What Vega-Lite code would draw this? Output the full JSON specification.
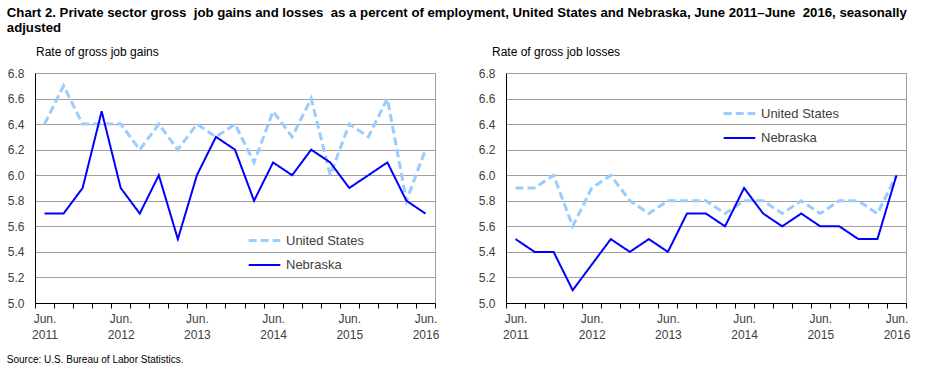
{
  "$schema": "https://vega.github.io/schema/vega-lite/v6.json",
  "padding": {"left": 6, "top": 6, "right": 5, "bottom": 5},
  "background": "white",
  "config": {
    "font": "Liberation Sans",
    "view": {"stroke": "#A0A0A0"},
    "axis": {"labelFont": "Liberation Sans", "labelFontSize": 12, "labelColor": "#404040", "domainColor": "black", "tickColor": "black", "title": null},
    "legend": {"orient": "none", "title": null, "symbolType": "stroke", "symbolSize": 1000, "labelFontSize": 13, "labelColor": "#404040", "labelFont": "Liberation Sans", "rowPadding": -6, "padding": 0, "labelOffset": 4}
  },
  "title": {"text": ["Chart 2. Private sector gross \u00a0job gains and losses \u00a0as a percent of employment, United States and Nebraska, June 2011\u2013June \u00a02016, seasonally", "adjusted"], "anchor": "start", "fontSize": 13.2, "fontWeight": "bold", "lineHeight": 15, "offset": 10, "font": "Liberation Sans", "color": "black"},
  "datasets": {
    "d": [
      {"panel": "gains", "series": "United States", "q": 0, "value": 6.4},
      {"panel": "gains", "series": "United States", "q": 1, "value": 6.7},
      {"panel": "gains", "series": "United States", "q": 2, "value": 6.4},
      {"panel": "gains", "series": "United States", "q": 3, "value": 6.4},
      {"panel": "gains", "series": "United States", "q": 4, "value": 6.4},
      {"panel": "gains", "series": "United States", "q": 5, "value": 6.2},
      {"panel": "gains", "series": "United States", "q": 6, "value": 6.4},
      {"panel": "gains", "series": "United States", "q": 7, "value": 6.2},
      {"panel": "gains", "series": "United States", "q": 8, "value": 6.4},
      {"panel": "gains", "series": "United States", "q": 9, "value": 6.3},
      {"panel": "gains", "series": "United States", "q": 10, "value": 6.4},
      {"panel": "gains", "series": "United States", "q": 11, "value": 6.1},
      {"panel": "gains", "series": "United States", "q": 12, "value": 6.5},
      {"panel": "gains", "series": "United States", "q": 13, "value": 6.3},
      {"panel": "gains", "series": "United States", "q": 14, "value": 6.6},
      {"panel": "gains", "series": "United States", "q": 15, "value": 6.0},
      {"panel": "gains", "series": "United States", "q": 16, "value": 6.4},
      {"panel": "gains", "series": "United States", "q": 17, "value": 6.3},
      {"panel": "gains", "series": "United States", "q": 18, "value": 6.6},
      {"panel": "gains", "series": "United States", "q": 19, "value": 5.8},
      {"panel": "gains", "series": "United States", "q": 20, "value": 6.2},
      {"panel": "gains", "series": "Nebraska", "q": 0, "value": 5.7},
      {"panel": "gains", "series": "Nebraska", "q": 1, "value": 5.7},
      {"panel": "gains", "series": "Nebraska", "q": 2, "value": 5.9},
      {"panel": "gains", "series": "Nebraska", "q": 3, "value": 6.5},
      {"panel": "gains", "series": "Nebraska", "q": 4, "value": 5.9},
      {"panel": "gains", "series": "Nebraska", "q": 5, "value": 5.7},
      {"panel": "gains", "series": "Nebraska", "q": 6, "value": 6.0},
      {"panel": "gains", "series": "Nebraska", "q": 7, "value": 5.5},
      {"panel": "gains", "series": "Nebraska", "q": 8, "value": 6.0},
      {"panel": "gains", "series": "Nebraska", "q": 9, "value": 6.3},
      {"panel": "gains", "series": "Nebraska", "q": 10, "value": 6.2},
      {"panel": "gains", "series": "Nebraska", "q": 11, "value": 5.8},
      {"panel": "gains", "series": "Nebraska", "q": 12, "value": 6.1},
      {"panel": "gains", "series": "Nebraska", "q": 13, "value": 6.0},
      {"panel": "gains", "series": "Nebraska", "q": 14, "value": 6.2},
      {"panel": "gains", "series": "Nebraska", "q": 15, "value": 6.1},
      {"panel": "gains", "series": "Nebraska", "q": 16, "value": 5.9},
      {"panel": "gains", "series": "Nebraska", "q": 17, "value": 6.0},
      {"panel": "gains", "series": "Nebraska", "q": 18, "value": 6.1},
      {"panel": "gains", "series": "Nebraska", "q": 19, "value": 5.8},
      {"panel": "gains", "series": "Nebraska", "q": 20, "value": 5.7},
      {"panel": "losses", "series": "United States", "q": 0, "value": 5.9},
      {"panel": "losses", "series": "United States", "q": 1, "value": 5.9},
      {"panel": "losses", "series": "United States", "q": 2, "value": 6.0},
      {"panel": "losses", "series": "United States", "q": 3, "value": 5.6},
      {"panel": "losses", "series": "United States", "q": 4, "value": 5.9},
      {"panel": "losses", "series": "United States", "q": 5, "value": 6.0},
      {"panel": "losses", "series": "United States", "q": 6, "value": 5.8},
      {"panel": "losses", "series": "United States", "q": 7, "value": 5.7},
      {"panel": "losses", "series": "United States", "q": 8, "value": 5.8},
      {"panel": "losses", "series": "United States", "q": 9, "value": 5.8},
      {"panel": "losses", "series": "United States", "q": 10, "value": 5.8},
      {"panel": "losses", "series": "United States", "q": 11, "value": 5.7},
      {"panel": "losses", "series": "United States", "q": 12, "value": 5.8},
      {"panel": "losses", "series": "United States", "q": 13, "value": 5.8},
      {"panel": "losses", "series": "United States", "q": 14, "value": 5.7},
      {"panel": "losses", "series": "United States", "q": 15, "value": 5.8},
      {"panel": "losses", "series": "United States", "q": 16, "value": 5.7},
      {"panel": "losses", "series": "United States", "q": 17, "value": 5.8},
      {"panel": "losses", "series": "United States", "q": 18, "value": 5.8},
      {"panel": "losses", "series": "United States", "q": 19, "value": 5.7},
      {"panel": "losses", "series": "United States", "q": 20, "value": 6.0},
      {"panel": "losses", "series": "Nebraska", "q": 0, "value": 5.5},
      {"panel": "losses", "series": "Nebraska", "q": 1, "value": 5.4},
      {"panel": "losses", "series": "Nebraska", "q": 2, "value": 5.4},
      {"panel": "losses", "series": "Nebraska", "q": 3, "value": 5.1},
      {"panel": "losses", "series": "Nebraska", "q": 4, "value": 5.3},
      {"panel": "losses", "series": "Nebraska", "q": 5, "value": 5.5},
      {"panel": "losses", "series": "Nebraska", "q": 6, "value": 5.4},
      {"panel": "losses", "series": "Nebraska", "q": 7, "value": 5.5},
      {"panel": "losses", "series": "Nebraska", "q": 8, "value": 5.4},
      {"panel": "losses", "series": "Nebraska", "q": 9, "value": 5.7},
      {"panel": "losses", "series": "Nebraska", "q": 10, "value": 5.7},
      {"panel": "losses", "series": "Nebraska", "q": 11, "value": 5.6},
      {"panel": "losses", "series": "Nebraska", "q": 12, "value": 5.9},
      {"panel": "losses", "series": "Nebraska", "q": 13, "value": 5.7},
      {"panel": "losses", "series": "Nebraska", "q": 14, "value": 5.6},
      {"panel": "losses", "series": "Nebraska", "q": 15, "value": 5.7},
      {"panel": "losses", "series": "Nebraska", "q": 16, "value": 5.6},
      {"panel": "losses", "series": "Nebraska", "q": 17, "value": 5.6},
      {"panel": "losses", "series": "Nebraska", "q": 18, "value": 5.5},
      {"panel": "losses", "series": "Nebraska", "q": 19, "value": 5.5},
      {"panel": "losses", "series": "Nebraska", "q": 20, "value": 6.0}
    ]
  },
  "vconcat": [
    {
      "title": {"text": "Source: U.S. Bureau of Labor Statistics.", "orient": "bottom", "anchor": "start", "fontSize": 10, "fontWeight": "normal", "offset": 14, "font": "Liberation Sans", "color": "black"},
      "spacing": 37,
      "hconcat": [
        {
          "width": 400,
          "height": 230,
          "title": {"text": "Rate of gross job gains", "anchor": "start", "frame": "group", "dx": 1, "fontSize": 12, "fontWeight": "normal", "offset": 8, "font": "Liberation Sans", "color": "black"},
          "data": {"name": "d"},
          "transform": [{"filter": "datum.panel === 'gains'"}],
          "encoding": {
            "x": {"field": "q", "type": "quantitative", "scale": {"domain": [-0.5, 20.5], "nice": false, "zero": false},
              "axis": {"values": [-0.5, 0, 0.5, 1.5, 2.5, 3.5, 4, 4.5, 5.5, 6.5, 7.5, 8, 8.5, 9.5, 10.5, 11.5, 12, 12.5, 13.5, 14.5, 15.5, 16, 16.5, 17.5, 18.5, 19.5, 20, 20.5],
                "labelExpr": "datum.value % 4 === 0 ? ['Jun.', '' + (2011 + datum.value / 4)] : ''",
                "labelOverlap": false, "labelLineHeight": 16, "labelPadding": 5, "tickSize": 5, "grid": false,
                "tickOpacity": {"condition": {"test": "datum.value % 1 === 0", "value": 0}, "value": 1}}},
            "y": {"field": "value", "type": "quantitative", "scale": {"domain": [5, 6.8], "nice": false, "zero": false},
              "axis": {"values": [5, 5.2, 5.4, 5.6, 5.8, 6, 6.2, 6.4, 6.6, 6.8], "format": ".1f", "ticks": false, "grid": true, "gridColor": "#A0A0A0", "labelPadding": 11}},
            "color": {"field": "series", "type": "nominal", "scale": {"domain": ["United States", "Nebraska"], "range": ["#99CCFF", "#0000FF"]}, "legend": {"legendX": 212, "legendY": 150}},
            "strokeDash": {"field": "series", "type": "nominal", "scale": {"domain": ["United States", "Nebraska"], "range": [[8, 4], [1, 0]]}, "legend": {"legendX": 212, "legendY": 150}},
            "strokeWidth": {"field": "series", "type": "nominal", "scale": {"domain": ["United States", "Nebraska"], "range": [3, 2]}, "legend": {"legendX": 212, "legendY": 150}}
          },
          "layer": [
            {"transform": [{"filter": "datum.series === 'United States'"}], "mark": {"type": "line"}},
            {"transform": [{"filter": "datum.series === 'Nebraska'"}], "mark": {"type": "line"}}
          ]
        },
        {
          "width": 400,
          "height": 230,
          "title": {"text": "Rate of gross job losses", "anchor": "start", "frame": "group", "dx": -14, "fontSize": 12, "fontWeight": "normal", "offset": 8, "font": "Liberation Sans", "color": "black"},
          "data": {"name": "d"},
          "transform": [{"filter": "datum.panel === 'losses'"}],
          "encoding": {
            "x": {"field": "q", "type": "quantitative", "scale": {"domain": [-0.5, 20.5], "nice": false, "zero": false},
              "axis": {"values": [-0.5, 0, 0.5, 1.5, 2.5, 3.5, 4, 4.5, 5.5, 6.5, 7.5, 8, 8.5, 9.5, 10.5, 11.5, 12, 12.5, 13.5, 14.5, 15.5, 16, 16.5, 17.5, 18.5, 19.5, 20, 20.5],
                "labelExpr": "datum.value % 4 === 0 ? ['Jun.', '' + (2011 + datum.value / 4)] : ''",
                "labelOverlap": false, "labelLineHeight": 16, "labelPadding": 5, "tickSize": 5, "grid": false,
                "tickOpacity": {"condition": {"test": "datum.value % 1 === 0", "value": 0}, "value": 1}}},
            "y": {"field": "value", "type": "quantitative", "scale": {"domain": [5, 6.8], "nice": false, "zero": false},
              "axis": {"values": [5, 5.2, 5.4, 5.6, 5.8, 6, 6.2, 6.4, 6.6, 6.8], "format": ".1f", "ticks": false, "grid": true, "gridColor": "#A0A0A0", "labelPadding": 11}},
            "color": {"field": "series", "type": "nominal", "scale": {"domain": ["United States", "Nebraska"], "range": ["#99CCFF", "#0000FF"]}, "legend": {"legendX": 216, "legendY": 23}},
            "strokeDash": {"field": "series", "type": "nominal", "scale": {"domain": ["United States", "Nebraska"], "range": [[8, 4], [1, 0]]}, "legend": {"legendX": 216, "legendY": 23}},
            "strokeWidth": {"field": "series", "type": "nominal", "scale": {"domain": ["United States", "Nebraska"], "range": [3, 2]}, "legend": {"legendX": 216, "legendY": 23}}
          },
          "layer": [
            {"transform": [{"filter": "datum.series === 'United States'"}], "mark": {"type": "line"}},
            {"transform": [{"filter": "datum.series === 'Nebraska'"}], "mark": {"type": "line"}}
          ]
        }
      ],
      "resolve": {"scale": {"color": "independent", "strokeDash": "independent", "strokeWidth": "independent", "y": "independent", "x": "independent"}, "legend": {"color": "independent", "strokeDash": "independent", "strokeWidth": "independent"}}
    }
  ]
}
